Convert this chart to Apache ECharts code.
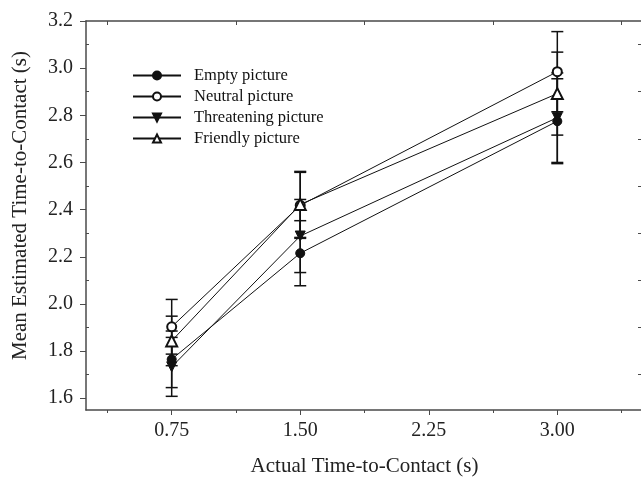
<!DOCTYPE html>
<html>
<head>
<meta charset="utf-8">
<script src="https://cdn.jsdelivr.net/npm/echarts@6/dist/echarts.min.js"></script>
<style>
  html, body { margin: 0; padding: 0; background: #fff; }
  #chart { width: 641px; height: 481px; }
</style>
</head>
<body>
<div id="chart"></div>
<script>
// data
const xValues = [0.75, 1.5, 3.0]
const xTicks = [0.75, 1.5, 2.25, 3.0]
const xMinorTicks = [0.375, 1.125, 1.875, 2.625, 3.375]
const yTicks = [1.6, 1.8, 2.0, 2.2, 2.4, 2.6, 2.8, 3.0, 3.2]
const yMinorTicks = [1.7, 1.9, 2.1, 2.3, 2.5, 2.7, 2.9, 3.1]

const seriesNames = ['Empty picture', 'Neutral picture', 'Threatening picture', 'Friendly picture']
const emptyMean = [1.765, 2.215, 2.775]
const emptyErr = [0.12, 0.138, 0.18]
const neutralMean = [1.903, 2.418, 2.985]
const neutralErr = [0.116, 0.14, 0.17]
const threatMean = [1.733, 2.288, 2.79]
const threatErr = [0.125, 0.155, 0.19]
const friendlyMean = [1.843, 2.422, 2.892]
const friendlyErr = [0.105, 0.14, 0.176]

const means = [emptyMean, neutralMean, threatMean, friendlyMean]
const errs = [emptyErr, neutralErr, threatErr, friendlyErr]
const symbols = ['circle', 'emptyCircle', 'triangle', 'emptyTriangle']
const symbolSizes = [9, 9, 10, 11]
const symbolRotates = [0, 0, 180, 0]

const font = 'Liberation Serif'
const axisColor = '#4a4a4a'

const myChart = echarts.init(document.getElementById('chart'))

let seriesArr = []
// error bars first, markers drawn over them
means.forEach((m, i) => {
  seriesArr.push({
    type: 'custom',
    silent: true,
    z: 1,
    data: xValues.map((x, j) => [x, m[j] - errs[i][j], m[j] + errs[i][j]]),
    renderItem: function (params, api) {
      const lo = api.coord([api.value(0), api.value(1)])
      const hi = api.coord([api.value(0), api.value(2)])
      const w = 6
      const style = { stroke: '#111', lineWidth: 1.5 }
      return {
        type: 'group',
        children: [
          { type: 'line', shape: { x1: lo[0], y1: lo[1], x2: hi[0], y2: hi[1] }, style: style },
          { type: 'line', shape: { x1: lo[0] - w, y1: lo[1], x2: lo[0] + w, y2: lo[1] }, style: style },
          { type: 'line', shape: { x1: hi[0] - w, y1: hi[1], x2: hi[0] + w, y2: hi[1] }, style: style }
        ]
      }
    }
  })
})
means.forEach((m, i) => {
  seriesArr.push({
    name: seriesNames[i],
    type: 'line',
    z: 3,
    data: xValues.map((x, j) => [x, m[j]]),
    symbol: symbols[i],
    symbolSize: symbolSizes[i],
    symbolRotate: symbolRotates[i],
    showAllSymbol: true,
    lineStyle: { color: '#111', width: 1 },
    itemStyle: { color: '#111', borderColor: '#111', borderWidth: 1 },
    emphasis: { disabled: true },
    animation: false
  })
})

const option = {
  animation: false,
  backgroundColor: '#fff',
  grid: { left: 86, right: -2, top: 21, bottom: 71, outerBoundsMode: 'none' },
  legend: {
    orient: 'vertical',
    left: 132,
    top: 67,
    padding: 0,
    itemWidth: 48,
    itemHeight: 10,
    itemGap: 4,
    data: seriesNames,
    textStyle: { fontFamily: font, fontSize: 16.5, color: '#111', lineHeight: 16, padding: [0, 0, 0, 8] }
  },
  xAxis: [
    {
      type: 'value',
      position: 'bottom',
      min: 0.25,
      max: 3.5,
      name: 'Actual Time-to-Contact (s)',
      nameLocation: 'middle',
      nameGap: 46,
      nameTextStyle: { fontFamily: font, fontSize: 21, color: '#222' },
      axisLine: { show: true, lineStyle: { color: axisColor, width: 1.5 } },
      axisTick: { show: true, customValues: xTicks, length: 5, lineStyle: { color: axisColor, width: 1 } },
      axisLabel: {
        customValues: xTicks,
        margin: 11,
        fontFamily: font,
        fontSize: 20,
        color: '#222',
        formatter: v => v.toFixed(2)
      },
      splitLine: { show: false }
    },
    {
      type: 'value',
      position: 'bottom',
      min: 0.25,
      max: 3.5,
      axisLine: { show: false },
      axisTick: { show: true, customValues: xMinorTicks, length: 3, lineStyle: { color: axisColor, width: 1 } },
      axisLabel: { show: false },
      splitLine: { show: false }
    },
    {
      type: 'value',
      position: 'top',
      min: 0.25,
      max: 3.5,
      axisLine: { show: true, onZero: false, lineStyle: { color: axisColor, width: 1.5 } },
      axisTick: { show: true, inside: true, customValues: xMinorTicks, length: 4, lineStyle: { color: axisColor, width: 1 } },
      axisLabel: { show: false },
      splitLine: { show: false }
    }
  ],
  yAxis: [
    {
      type: 'value',
      position: 'left',
      min: 1.55,
      max: 3.2,
      name: 'Mean Estimated Time-to-Contact (s)',
      nameLocation: 'middle',
      nameGap: 55,
      nameTextStyle: { fontFamily: font, fontSize: 21, color: '#222', padding: [0, 0, 0, 20] },
      axisLine: { show: true, onZero: false, lineStyle: { color: axisColor, width: 1.5 } },
      axisTick: { show: true, customValues: yTicks, length: 6, lineStyle: { color: axisColor, width: 1 } },
      axisLabel: {
        customValues: yTicks,
        margin: 13,
        fontFamily: font,
        fontSize: 20,
        color: '#222',
        formatter: v => v.toFixed(1)
      },
      splitLine: { show: false }
    },
    {
      type: 'value',
      position: 'left',
      min: 1.55,
      max: 3.2,
      axisLine: { show: false },
      axisTick: { show: true, inside: true, customValues: yMinorTicks, length: 3, lineStyle: { color: axisColor, width: 1 } },
      axisLabel: { show: false },
      splitLine: { show: false }
    },
    {
      type: 'value',
      position: 'right',
      min: 1.55,
      max: 3.2,
      axisLine: { show: true, onZero: false, lineStyle: { color: axisColor, width: 1.5 } },
      axisTick: { show: true, inside: true, customValues: yMinorTicks, length: 5, lineStyle: { color: axisColor, width: 1 } },
      axisLabel: { show: false },
      splitLine: { show: false }
    }
  ],
  series: seriesArr
}
myChart.setOption(option)
window.addEventListener('resize', () => {
  myChart.resize()
})
</script>
</body>
</html>
